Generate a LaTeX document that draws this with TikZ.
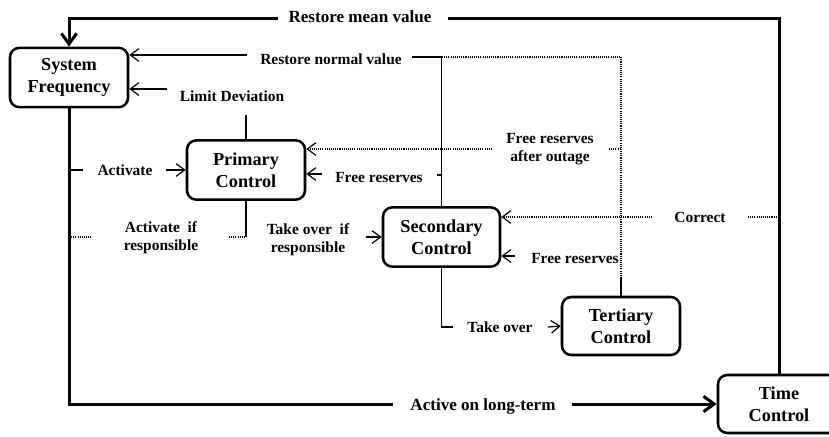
\documentclass[tikz,border=0pt]{standalone}
\usepackage{fontspec}
\setmainfont{Liberation Serif}
\usetikzlibrary{arrows.meta}

\tikzset{every picture/.style={line width=0.9pt}}
\tikzset{
  ctrlbox/.style={draw, line width=1.9pt, rounded corners=7pt, minimum width=88.5pt, minimum height=44.5pt, inner sep=0pt, align=center, font=\fontsize{13.7}{16.5}\selectfont\bfseries},
  lbl/.style={inner sep=0pt, align=center, font=\fontsize{11.6}{13.5}\selectfont\bfseries},
  biglbl/.style={inner sep=0pt, font=\fontsize{12.8}{15}\selectfont\bfseries},
  thin arrow/.style={-{Straight Barb[length=6.5pt,width=9.5pt]}},
  thick line/.style={line width=2.25pt},
  thick arrow/.style={thick line, -{Straight Barb[length=8pt,width=11.5pt]}},
  dots/.style={line width=0.9pt, dash pattern=on 0.8pt off 0.8pt},
}

\begin{document}
\begin{tikzpicture}[x=0.75pt,y=0.75pt,yscale=-1,xscale=1]
\useasboundingbox (0,0) rectangle (829,436);

%Shape: Rounded Rect [sysf] 
\node[ctrlbox] (sysf) at (69,77.5) {System\\Frequency};
%Shape: Rounded Rect [prim] 
\node[ctrlbox] (prim) at (246,170) {Primary\\Control};
%Shape: Rounded Rect [sec] 
\node[ctrlbox, minimum width=87.75pt] (sec) at (441.5,237) {Secondary\\Control};
%Shape: Rounded Rect [ter] 
\node[ctrlbox, minimum height=43.5pt] (ter) at (621,326) {Tertiary\\Control};
%Shape: Rounded Rect [time] 
\node[ctrlbox, minimum width=91.5pt, minimum height=43.5pt] (time) at (779,404) {Time\\Control};

% Text Node
\node[biglbl] (mean) at (360,17) {Restore mean value};
% Text Node
\node[biglbl] (longterm) at (483,406) {Active on long-term};
% Text Node
\node[lbl] (normal) at (331,59) {Restore normal value};
% Text Node
\node[lbl] (limit) at (232,96) {Limit Deviation};
% Text Node
\node[lbl] (activate) at (125,170) {Activate};
% Text Node
\node[lbl] (actif) at (161,238) {Activate\ \ if\\responsible};
% Text Node
\node[lbl] (takeif) at (308,240) {Take over\ \ if\\responsible};
% Text Node
\node[lbl] (freeprim) at (379,178) {Free reserves};
% Text Node
\node[lbl] (outage) at (550,149) {Free reserves\\after outage};
% Text Node
\node[lbl] (correct) at (700,217) {Correct};
% Text Node
\node[lbl] (freesec) at (575,259) {Free reserves};
% Text Node
\node[lbl] (takeover) at (500,327) {Take over};

%line ends beside the labels
\coordinate (meanL) at (278,18);
\coordinate (meanR) at (448,18);
\coordinate (ltL) at (393,404);
\coordinate (ltR) at (572,404);
\coordinate (nrmL) at (247,55);
\coordinate (nrmR) at (412,57);
\coordinate (terTop) at (621,278);
\coordinate (limB) at (246,115);
\coordinate (limL) at (167,89);
\coordinate (actT) at (83,170);
\coordinate (actR) at (166,170);
\coordinate (aifL) at (91,237);
\coordinate (aifR) at (229,237);
\coordinate (tifR) at (366,237);
\coordinate (frpL) at (322,174);
\coordinate (frpR) at (437,175);
\coordinate (outL) at (492,149);
\coordinate (outR) at (609,149);
\coordinate (corL) at (652,217);
\coordinate (corR) at (748,217);
\coordinate (frsL) at (515,256);
\coordinate (tkL) at (453,327);
\coordinate (tkR) at (548,327);

%Thick Lines
\draw[thick line] (time.north) |- (meanR);
\draw[thick arrow] (meanL) -| (sysf.north);
\draw[thick line] (sysf.south) |- (ltL);
\draw[thick arrow] (ltR) -- (time.west);

%Restore normal value
\draw[thin arrow] (nrmL) -- (nrmL -| sysf.east);
\draw (sec.north) |- (nrmR);
\draw (ter.north) -- (terTop);
\draw[dots] (terTop) |- (nrmR -| sec.north);

%Limit Deviation
\draw (prim.north) -- (limB);
\draw[thin arrow] (limL) -- (limL -| sysf.east);

%Activate
\draw (sysf.south |- actT) -- (actT);
\draw[thin arrow] (actR) -- (prim.west);
\draw[dots] (sysf.south |- aifL) -- (aifL);
\draw[dots] (aifR) -- (prim.south |- aifR);
\draw (prim.south |- aifR) -- (prim.south);

%Take over
\draw[thin arrow] (tifR) -- (sec.west);
\draw (sec.south) |- (tkL);
\draw[thin arrow] (tkR) -- (ter.west);

%Free reserves
\draw (frpR) -- (sec.north |- frpR);
\draw[thin arrow] (frpL) -- (frpL -| prim.east);
\draw[dots, thin arrow] (outL) -- (outL -| prim.east);
\draw[dots] (outR) -- (outR -| ter.north);
\draw[thin arrow] (frsL) -- (frsL -| sec.east);

%Correct
\draw[dots, thin arrow] (corL) -- (corL -| sec.east);
\draw[dots] (corR) -- (corR -| time.north);

\end{tikzpicture}
\end{document}
